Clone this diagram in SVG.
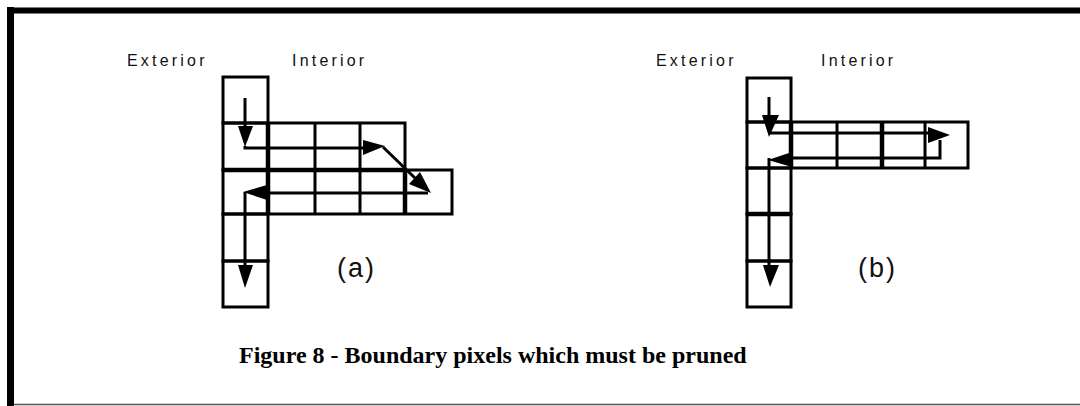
<svg xmlns="http://www.w3.org/2000/svg" width="1080" height="406" viewBox="0 0 1080 406">
<style>
.cell{fill:none;stroke:#000;stroke-width:3}
.thick{fill:none;stroke:#000;stroke-width:4.5}
.path{fill:none;stroke:#000;stroke-width:3;stroke-linejoin:miter}
.head{fill:#000;stroke:none}
.lbl{font-family:"Liberation Sans",Arial,sans-serif;font-size:16px;letter-spacing:3.2px;fill:#111}
.tag{font-family:"Liberation Sans",Arial,sans-serif;font-size:27px;letter-spacing:2px;fill:#111}
.cap{font-family:"Liberation Serif","Times New Roman",serif;font-size:24px;font-weight:bold;fill:#000}
</style>
<rect width="1080" height="406" fill="#fff"/>
<g id="frame">
<line x1="7" y1="10.5" x2="1080" y2="10.5" stroke="#000" stroke-width="6"/>
<line x1="10.5" y1="7" x2="10.5" y2="406" stroke="#000" stroke-width="7"/>
<line x1="14" y1="404.5" x2="1080" y2="404.5" stroke="#555" stroke-width="1.5"/>
</g>
<g id="panel-a">
<text class="lbl" x="127" y="66">Exterior</text>
<text class="lbl" x="292" y="66">Interior</text>
<g id="grid-a">
<rect class="cell" x="223" y="77" width="45" height="46"/>
<rect class="cell" x="223" y="123" width="182" height="47"/>
<line class="cell" x1="315" y1="123" x2="315" y2="170"/>
<line class="cell" x1="360" y1="123" x2="360" y2="170"/>
<rect class="cell" x="223" y="170" width="229" height="44"/>
<line class="cell" x1="315" y1="170" x2="315" y2="214"/>
<line class="cell" x1="360" y1="170" x2="360" y2="214"/>
<line class="thick" x1="405" y1="170" x2="405" y2="214"/>
<line class="thick" x1="223" y1="170" x2="405" y2="170"/>
<line class="thick" x1="268" y1="123" x2="268" y2="214"/>
<rect class="cell" x="223" y="214" width="45" height="47"/>
<rect class="cell" x="223" y="261" width="45" height="46"/>
<text class="tag" x="337" y="277">(a)</text>
</g>
<g id="connectors-a">
<polyline class="path" points="245,98 245,130"/>
<polygon class="head" points="238,126 253,126 245,147"/>
<polyline class="path" points="245,146 245,148 365,148"/>
<polygon class="head" points="363,140 385,146 363,155"/>
<polyline class="path" points="383,147 416,179"/>
<polygon class="head" points="409,184 420,172 431,193"/>
<polyline class="path" points="428,193 262,193"/>
<polygon class="head" points="243,192 267,185 267,200"/>
<polyline class="path" points="245,192 245,268"/>
<polygon class="head" points="238,265 253,265 245,288"/>
</g>
</g>
<g id="panel-b">
<text class="lbl" x="656" y="66">Exterior</text>
<text class="lbl" x="821" y="66">Interior</text>
<g id="grid-b">
<rect class="cell" x="747" y="78" width="44" height="44"/>
<rect class="cell" x="747" y="122" width="221" height="46"/>
<line class="cell" x1="837" y1="122" x2="837" y2="168"/>
<line class="thick" x1="882" y1="122" x2="882" y2="168"/>
<line class="cell" x1="925" y1="122" x2="925" y2="168"/>
<line class="thick" x1="791" y1="122" x2="791" y2="168"/>
<rect class="cell" x="747" y="168" width="44" height="46"/>
<line class="thick" x1="747" y1="214" x2="791" y2="214"/>
<rect class="cell" x="747" y="214" width="44" height="47"/>
<rect class="cell" x="747" y="261" width="44" height="46"/>
<text class="tag" x="858" y="277">(b)</text>
</g>
<g id="connectors-b">
<polyline class="path" points="769,97 769,120"/>
<polygon class="head" points="762,115 779,115 769,137"/>
<polyline class="path" points="769,133 930,133"/>
<polygon class="head" points="928,127 950,135 928,143"/>
<polyline class="path" points="940,140 940,158 790,158"/>
<polygon class="head" points="768,160 792,152 792,167"/>
<polyline class="path" points="769,158 769,268"/>
<polygon class="head" points="763,265 779,265 770,287"/>
</g>
</g>
<g id="caption">
<text class="cap" x="239" y="363">Figure 8 - Boundary pixels which must be pruned</text>
</g>
</svg>
